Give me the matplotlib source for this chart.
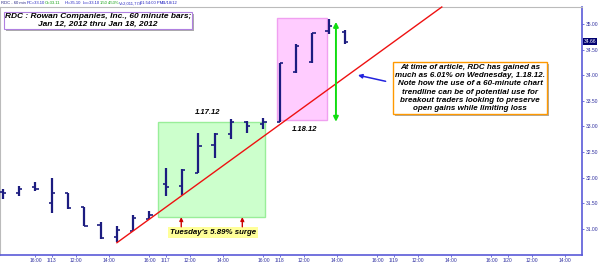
"""RDC 60-minute OHLC bars, Jan 12 - Jan 18 2012, with trendline and notes."""

import matplotlib
matplotlib.use("Agg")
import matplotlib.pyplot as plt
from matplotlib import patheffects
from matplotlib.patches import Rectangle

# ---- data ----
bar_idx = list(range(22))
opens = [31.72, 31.70, 31.82, 31.50, 31.70, 31.43, 31.07, 30.84, 30.96, 31.19, 31.88,
         31.84, 32.09, 32.64, 32.85, 33.09, 33.05, 33.09, 34.06, 34.26, 34.86, 34.84]
highs = [31.78, 31.84, 31.91, 31.99, 31.70, 31.43, 31.13, 31.05, 31.27, 31.35, 32.19,
         32.17, 32.87, 32.87, 33.14, 33.11, 33.16, 34.24, 34.61, 34.82, 35.10, 34.88]
lows = [31.58, 31.64, 31.74, 31.31, 31.39, 31.05, 30.80, 30.74, 30.96, 31.19, 31.64,
        31.66, 32.09, 32.38, 32.75, 32.87, 32.95, 33.09, 34.04, 34.24, 34.80, 34.61]
closes = [31.70, 31.78, 31.78, 31.70, 31.41, 31.05, 30.82, 30.98, 31.21, 31.27, 31.82,
          32.15, 32.62, 32.85, 33.09, 33.01, 33.09, 34.24, 34.57, 34.82, 34.96, 34.64]
last_price = 34.66

time_tick_pos = [2, 3, 4.5, 6.5, 9, 10, 11.5, 13.5, 16, 17, 18.5, 20.5, 23, 24,
                 25.5, 27.5, 30, 31, 32.5, 34.5]
time_tick_labels = ["16:00", "1/13", "12:00", "14:00", "16:00", "1/17", "12:00", "14:00",
                    "16:00", "1/18", "12:00", "14:00", "16:00", "1/19", "12:00", "14:00",
                    "16:00", "1/20", "12:00", "14:00"]
price_ticks = [31.0, 31.5, 32.0, 32.5, 33.0, 33.5, 34.0, 34.5, 35.0]

# trendline anchors (bar index, price)
trend_x = [7, 26.95]
trend_y = [30.73, 35.33]

# highlighted zones: (x0, x1, y0, y1)
zone_jan17 = (9.52, 16.09, 31.23, 33.09)
zone_jan18 = (16.85, 19.9, 33.12, 35.12)
gain_arrow = (20.45, 33.09, 35.04)

NAVY = "#1c1c80"
AXBLUE = "#5a5ad8"
FONT = "Liberation Sans"

fig = plt.figure(figsize=(6, 2.65), dpi=100, facecolor="white")
ax = fig.add_axes([0.0, 10 / 265, 582 / 600, 248 / 265])
ax.set_xlim(-0.18, 35.56)
ax.set_ylim(30.49, 35.33)

# zones
for (x0, x1, y0, y1), face, edge in [(zone_jan17, "#ccffcc", "#99ee99"),
                                      (zone_jan18, "#ffccff", "#f0a0f0")]:
    ax.add_patch(Rectangle((x0, y0), x1 - x0, y1 - y0, facecolor=face,
                           edgecolor=edge, lw=1, zorder=1))

# ohlc bars
ax.vlines(bar_idx, lows, highs, color=NAVY, lw=1.6, zorder=3)
ax.hlines(opens, [i - 0.2 for i in bar_idx], bar_idx, color=NAVY, lw=1.2, zorder=3)
ax.hlines(closes, bar_idx, [i + 0.2 for i in bar_idx], color=NAVY, lw=1.2, zorder=3)

# trendline
ax.plot(trend_x, trend_y, color="#ee1111", lw=1.0, zorder=4, clip_on=False)

# gain arrow
gx, gy0, gy1 = gain_arrow
ax.annotate("", xy=(gx, gy1), xytext=(gx, gy0),
            arrowprops=dict(arrowstyle="<|-|>", color="#11dd11", lw=1.4,
                            mutation_scale=7, shrinkA=0, shrinkB=0), zorder=5)

# axes styling
for side in ["top", "left"]:
    ax.spines[side].set_color("#bbbbbb")
    ax.spines[side].set_linewidth(0.8)
for side in ["right", "bottom"]:
    ax.spines[side].set_color(AXBLUE)
    ax.spines[side].set_linewidth(1.2)
ax.yaxis.tick_right()
ax.set_yticks(price_ticks)
ax.set_yticklabels([f"{p:.2f}" for p in price_ticks])
ax.set_xticks(time_tick_pos)
ax.set_xticklabels(time_tick_labels)
ax.tick_params(axis="both", colors=AXBLUE, labelcolor="#3030a0", labelsize=3.6,
               length=1.5, width=0.6, pad=1)
for lab in ax.get_xticklabels() + ax.get_yticklabels():
    lab.set_family(FONT)

ax.text(1.003, last_price, f"{last_price:.2f}", transform=ax.get_yaxis_transform(),
        fontsize=3.6, family=FONT, color="white", va="center", ha="left",
        bbox=dict(boxstyle="square,pad=0.15", facecolor="#000070", edgecolor="none"),
        zorder=6, clip_on=False)

shadow = [patheffects.withSimplePatchShadow(offset=(1.5, -1.5), shadow_rgbFace="#888888",
                                            alpha=0.7)]

# title box
t = fig.text(98 / 600, 1 - 20.5 / 265,
             "RDC : Rowan Companies, Inc., 60 minute bars;\nJan 12, 2012 thru Jan 18, 2012",
             fontsize=6.0, family=FONT, weight="bold", style="italic", ha="center",
             va="center", linespacing=1.1,
             bbox=dict(boxstyle="square,pad=0.12", facecolor="white", edgecolor="#b080e0",
                       lw=0.8))
t.get_bbox_patch().set_path_effects(shadow)

# note box
note = ("At time of article, RDC has gained as\nmuch as 6.01% on Wednesday, 1.18.12.\n"
        "Note how the use of a 60-minute chart\ntrendline can be of potential use for\n"
        "breakout traders looking to preserve\nopen gains while limiting loss")
t = fig.text(470 / 600, 1 - 88 / 265, note, fontsize=5.8, family=FONT, weight="bold",
             style="italic", ha="center", va="center", linespacing=1.22,
             bbox=dict(boxstyle="square,pad=0.25", facecolor="white", edgecolor="#ff9900",
                       lw=1.0))
t.get_bbox_patch().set_path_effects(shadow)

# blue pointer arrow from note to trendline
ax.annotate("", xy=(21.8, 34.0), xytext=(23.5, 33.88),
            arrowprops=dict(arrowstyle="-|>", color="#2222dd", lw=1.1, mutation_scale=6,
                            shrinkA=0, shrinkB=0), zorder=5)

# date labels
ax.text(12.6, 33.21, "1.17.12", fontsize=5.5, family=FONT, weight="bold", style="italic",
        ha="center", va="bottom", zorder=5)
ax.text(18.5, 32.93, "1.18.12", fontsize=5.5, family=FONT, weight="bold", style="italic",
        ha="center", va="center", zorder=5)

# surge label with red pointers
t = ax.text(12.9, 30.93, "Tuesday's 5.89% surge", fontsize=5.7, family=FONT, weight="bold",
            style="italic", ha="center", va="center", zorder=5,
            bbox=dict(boxstyle="square,pad=0.25", facecolor="#ffff99", edgecolor="none"))
for px in [10.95, 14.7]:
    ax.annotate("", xy=(px, 31.23), xytext=(px, 31.04),
                arrowprops=dict(arrowstyle="-|>", color="#cc0000", lw=1.0, mutation_scale=5,
                                shrinkA=0, shrinkB=0,
                                path_effects=[patheffects.withSimplePatchShadow(
                                    offset=(1, -1), shadow_rgbFace="#999999")]),
                zorder=5)

# quote header
header = [("RDC - 60 min", 1, "#202080"), ("PC=33.10", 27, "#2020c0"),
          ("O=33.11", 45, "#10a010"), ("Hi=35.10", 65, "#2020c0"),
          ("Lo=33.10", 83, "#2020c0"), ("1.50", 100, "#10a010"),
          ("4.53%", 108, "#10a010"), ("V=2,011,774", 119, "#2020c0"),
          ("01:54:00 PM", 140, "#2020c0"), ("01/18/12", 162, "#2020c0")]
for txt, px, col in header:
    fig.text(px / 600, 1 - 3.5 / 265, txt, fontsize=3.0, family=FONT, color=col,
             ha="left", va="center")

fig.savefig("out.png", dpi=100, facecolor="white")
